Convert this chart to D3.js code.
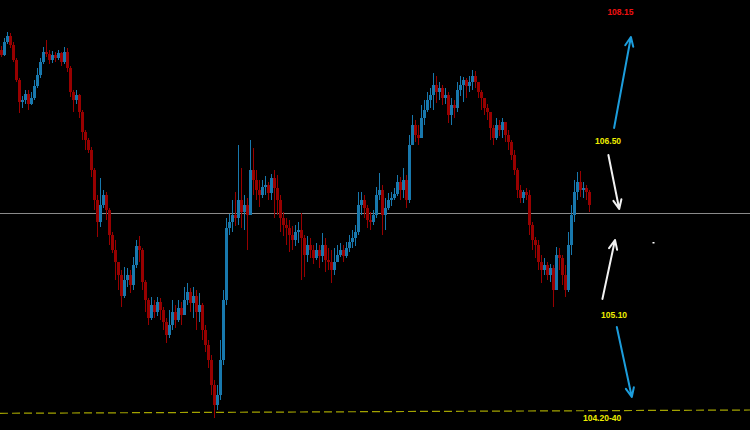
<!DOCTYPE html>
<html><head><meta charset="utf-8">
<script src="https://cdn.jsdelivr.net/npm/d3@7/dist/d3.min.js"></script>
<style>html,body{margin:0;padding:0;background:#000;overflow:hidden}</style>
</head><body>
<script>
// ---- data ----
const firstOpen = 107.90;
const closes = [
107.85,107.98,108.04,107.95,107.80,107.60,107.38,107.40,107.46,107.36,
107.42,107.54,107.65,107.78,107.88,107.86,107.80,107.85,107.82,107.87,
107.78,107.88,107.72,107.48,107.40,107.45,107.28,107.08,107.00,106.90,
106.70,106.40,106.18,106.35,106.45,106.30,106.05,105.90,105.78,105.65,
105.44,105.60,105.65,105.55,105.75,105.94,105.90,105.58,105.40,105.22,
105.35,105.28,105.38,105.30,105.18,105.05,105.15,105.28,105.20,105.32,
105.25,105.40,105.48,105.37,105.44,105.28,105.35,105.10,104.95,104.80,
104.55,104.35,104.45,104.80,105.40,106.12,106.18,106.25,106.22,106.40,
106.28,106.35,106.25,106.70,106.60,106.50,106.45,106.53,106.55,106.47,
106.62,106.52,106.40,106.22,106.15,106.12,106.05,106.00,106.08,106.10,
106.02,105.85,105.95,105.90,105.82,105.90,105.84,105.95,105.80,105.78,
105.70,105.78,105.85,105.90,105.84,105.92,105.98,106.02,106.08,106.35,
106.40,106.32,106.20,106.18,106.25,106.45,106.50,106.25,106.32,106.40,
106.42,106.46,106.58,106.50,106.60,106.40,106.95,107.15,107.05,107.02,
107.22,107.30,107.40,107.45,107.55,107.48,107.52,107.42,107.45,107.25,
107.35,107.32,107.50,107.55,107.60,107.54,107.58,107.64,107.58,107.48,
107.42,107.32,107.28,107.12,107.02,107.15,107.10,107.18,107.05,106.98,
106.85,106.70,106.50,106.42,106.48,106.45,106.15,106.00,105.95,105.78,
105.70,105.75,105.65,105.72,105.50,105.85,105.82,105.65,105.50,105.95,
106.25,106.48,106.58,106.50,106.52,106.48,106.35];
const highs = [
107.94,108.02,108.08,108.07,107.98,107.82,107.62,107.44,107.50,107.50,
107.48,107.60,107.72,107.82,107.93,108.00,107.90,107.89,107.88,107.90,
107.88,107.93,107.92,107.74,107.50,107.50,107.46,107.30,107.10,107.02,
106.93,106.72,106.45,106.62,106.50,106.48,106.32,106.08,106.00,105.77,
105.70,105.73,105.72,105.70,105.83,106.00,106.04,105.92,105.60,105.42,
105.43,105.40,105.43,105.42,105.33,105.22,105.30,105.40,105.35,105.40,
105.38,105.53,105.57,105.52,105.53,105.50,105.47,105.37,105.15,105.00,
104.85,104.60,104.55,105.00,105.50,106.22,106.26,106.40,106.48,106.95,
106.72,106.45,106.42,107.00,106.92,106.70,106.60,106.60,106.64,106.58,
106.66,106.70,106.65,106.45,106.28,106.22,106.20,106.14,106.15,106.18,
106.27,106.05,106.04,106.02,105.95,105.97,105.95,106.07,106.02,105.92,
105.90,105.92,105.95,105.97,105.95,105.98,106.05,106.10,106.15,106.48,
106.48,106.45,106.35,106.28,106.30,106.53,106.67,106.55,106.42,106.47,
106.48,106.52,106.65,106.63,106.72,106.65,107.05,107.25,107.20,107.15,
107.35,107.40,107.48,107.52,107.67,107.64,107.58,107.55,107.52,107.48,
107.42,107.40,107.58,107.64,107.63,107.62,107.64,107.70,107.69,107.56,
107.50,107.38,107.36,107.25,107.15,107.22,107.20,107.22,107.18,107.10,
107.00,106.90,106.72,106.55,106.50,106.52,106.50,106.18,106.03,106.00,
105.85,105.82,105.78,105.76,105.75,105.93,105.92,105.85,105.75,106.08,
106.35,106.60,106.68,106.69,106.58,106.55,106.50];
const lows = [
107.83,107.84,107.96,107.92,107.78,107.58,107.27,107.32,107.36,107.30,
107.35,107.40,107.52,107.62,107.76,107.83,107.76,107.77,107.78,107.80,
107.74,107.76,107.68,107.43,107.28,107.36,107.22,107.00,106.90,106.87,
106.63,106.30,106.03,106.13,106.32,106.20,105.95,105.87,105.60,105.50,
105.33,105.42,105.53,105.47,105.50,105.72,105.78,105.50,105.28,105.15,
105.20,105.22,105.24,105.20,105.10,104.97,105.02,105.10,105.12,105.18,
105.15,105.30,105.35,105.28,105.22,105.10,105.18,105.00,104.88,104.72,
104.45,104.22,104.30,104.40,104.75,105.35,106.05,106.08,106.14,106.15,
106.12,106.10,105.90,106.25,106.45,106.40,106.33,106.42,106.45,106.40,
106.40,106.22,106.25,106.08,106.04,105.95,105.88,105.90,105.94,105.97,
105.60,105.63,105.78,105.82,105.76,105.80,105.72,105.78,105.68,105.70,
105.57,105.65,105.78,105.83,105.78,105.82,105.88,105.92,105.94,106.05,
106.25,106.22,106.12,106.10,106.15,106.22,106.40,106.05,106.10,106.30,
106.34,106.40,106.44,106.40,106.42,106.32,106.37,106.95,106.98,106.95,
107.05,107.15,107.28,107.32,107.30,107.37,107.40,107.35,107.36,107.17,
107.15,107.22,107.28,107.44,107.38,107.42,107.48,107.50,107.52,107.42,
107.30,107.25,107.20,107.00,106.95,107.00,107.04,107.02,106.98,106.90,
106.80,106.65,106.42,106.37,106.37,106.40,106.05,105.90,105.82,105.70,
105.57,105.65,105.60,105.58,105.33,105.65,105.70,105.55,105.43,105.48,
105.85,106.18,106.40,106.43,106.42,106.40,106.28];

const currentPrice = 106.27;                 // horizontal grey line
const supportLine = [[0, 104.267], [250, 104.30]]; // dashed support
const labelTexts = ["108.15", "106.50", "105.10", "104.20-40"];
const labelColors = ["#ee1111", "#eeee00", "#eeee00", "#eeee00"];
const labelPos = [[206.8, 108.25], [202.7, 106.96], [204.7, 105.22], [200.7, 104.193]];
const arrows = [
  {from: [204.7, 107.12], to: [210.3, 108.03], color: "#1c9ddc"},
  {from: [202.8, 106.85], to: [206.4, 106.31], color: "#f2f2f2"},
  {from: [200.8, 105.41], to: [205.0, 106.00], color: "#f2f2f2"},
  {from: [205.6, 105.13], to: [210.6, 104.43], color: "#1c9ddc"}
];
const dotMark = [217.5, 105.98];

// ---- chart ----
const W = 750, H = 430;
const svg = d3.select("body").append("svg").attr("width", W).attr("height", H)
  .style("display", "block").style("background", "#000");
svg.append("rect").attr("width", W).attr("height", H).attr("fill", "#000");

const x = d3.scaleLinear().domain([0, 250]).range([0, W]);
const y = d3.scaleLinear().domain([104.10, 108.40]).range([H, 0]);

const candles = closes.map((c, i) => ({
  i, c, o: i ? closes[i - 1] : firstOpen, h: highs[i], l: lows[i]
}));
const upCol = "#1878ad", dnCol = "#980000";

// grey current-price line
svg.append("line").attr("x1", 0).attr("x2", W)
  .attr("y1", Math.round(y(currentPrice)) + 0.5).attr("y2", Math.round(y(currentPrice)) + 0.5)
  .attr("stroke", "#8a8a8a").attr("stroke-width", 1);

// dashed support line
svg.append("line")
  .attr("x1", x(supportLine[0][0])).attr("y1", y(supportLine[0][1]))
  .attr("x2", x(supportLine[1][0])).attr("y2", y(supportLine[1][1]))
  .attr("stroke", "#a3a300").attr("stroke-width", 1.2)
  .attr("stroke-dasharray", "8,4");

const g = svg.append("g");
const cg = g.selectAll("g.c").data(candles).join("g").attr("class", "c");
cg.append("line")
  .attr("x1", d => x(d.i) + 1.5).attr("x2", d => x(d.i) + 1.5)
  .attr("y1", d => y(Math.max(d.h, d.o, d.c)))
  .attr("y2", d => y(Math.min(d.l, d.o, d.c)))
  .attr("stroke", d => d.c >= d.o ? upCol : dnCol).attr("stroke-width", 1);
cg.append("rect")
  .attr("x", d => x(d.i)).attr("width", 3)
  .attr("y", d => y(Math.max(d.o, d.c)))
  .attr("height", d => Math.max(1, y(Math.min(d.o, d.c)) - y(Math.max(d.o, d.c))))
  .attr("fill", d => d.c >= d.o ? upCol : dnCol);

// arrows
arrows.forEach(a => {
  const x1 = x(a.from[0]), y1 = y(a.from[1]), x2 = x(a.to[0]), y2 = y(a.to[1]);
  const ang = Math.atan2(y2 - y1, x2 - x1);
  const L = 10, sp = 0.42;
  const b1 = [x2 - L * Math.cos(ang - sp), y2 - L * Math.sin(ang - sp)];
  const b2 = [x2 - L * Math.cos(ang + sp), y2 - L * Math.sin(ang + sp)];
  svg.append("path")
    .attr("d", `M${x1},${y1}L${x2},${y2}M${b1[0]},${b1[1]}L${x2},${y2}L${b2[0]},${b2[1]}`)
    .attr("fill", "none").attr("stroke", a.color).attr("stroke-width", 2)
    .attr("stroke-linecap", "round").attr("stroke-linejoin", "round");
});

// small mark
svg.append("rect").attr("x", x(dotMark[0])).attr("y", y(dotMark[1]))
  .attr("width", 2).attr("height", 1.5).attr("fill", "#fff");

// labels
svg.selectAll("text.lbl").data(labelTexts).join("text").attr("class", "lbl")
  .attr("x", (d, i) => x(labelPos[i][0])).attr("y", (d, i) => y(labelPos[i][1]))
  .attr("text-anchor", "middle")
  .attr("font-family", "'Liberation Sans', Arial, sans-serif")
  .attr("font-weight", "bold").attr("font-size", 8.5)
  .attr("fill", (d, i) => labelColors[i]).text(d => d);
</script>
</body></html>
